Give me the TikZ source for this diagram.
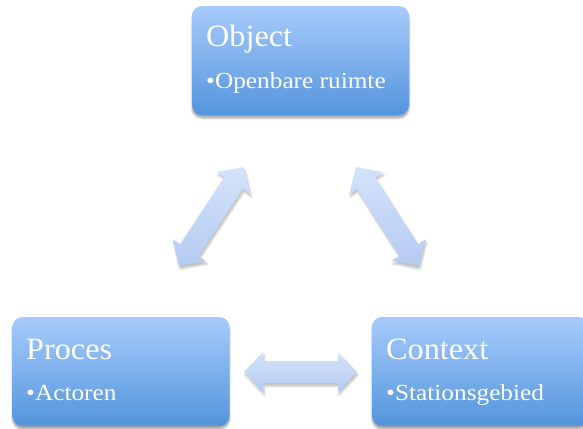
\documentclass[tikz,border=0pt]{standalone}
\usepackage{fontspec}
\setmainfont{Liberation Serif}
\newfontfamily\titlefont{Liberation Serif}[FakeStretch=1.04]
\newfontfamily\itemfont{Liberation Serif}[FakeStretch=1.1]
\usetikzlibrary{calc,shadows.blur}
\definecolor{boxtop}{RGB}{167,203,251}
\definecolor{boxbot}{RGB}{84,149,221}
\definecolor{arrtop}{RGB}{212,227,251}
\definecolor{arrbot}{RGB}{180,202,240}
\tikzset{
  box/.style={minimum width=217pt, minimum height=109pt, inner sep=0pt,
    rounded corners=10pt, top color=boxtop, bottom color=boxbot, draw=none,
    blur shadow={shadow xshift=0pt, shadow yshift=-3pt, shadow blur steps=6, shadow opacity=35}},
  title/.style={anchor=base west, inner sep=0pt, text=white, font=\titlefont\fontsize{31}{32}\selectfont},
  item/.style={anchor=base west, inner sep=0pt, text=white, font=\itemfont\fontsize{23}{24}\selectfont},
  blockarrow/.style={top color=arrtop, bottom color=arrbot, draw=none,
    blur shadow={shadow xshift=1pt, shadow yshift=-3pt, shadow blur steps=6, shadow opacity=25}}
}
\newcommand{\dblarrow}[2]{%
  \path[blockarrow] (#1) -- ($($(#1)!19pt!(#2)$)!20pt!90:(#2)$) -- ($($(#1)!19pt!(#2)$)!11pt!90:(#2)$)
    -- ($($(#2)!19pt!(#1)$)!11pt!-90:(#1)$) -- ($($(#2)!19pt!(#1)$)!20pt!-90:(#1)$) -- (#2)
    -- ($($(#2)!19pt!(#1)$)!20pt!90:(#1)$) -- ($($(#2)!19pt!(#1)$)!11pt!90:(#1)$)
    -- ($($(#1)!19pt!(#2)$)!11pt!-90:(#2)$) -- ($($(#1)!19pt!(#2)$)!20pt!-90:(#2)$) -- cycle;}
\begin{document}
\begin{tikzpicture}[x=1pt,y=-1pt]
\useasboundingbox (0,0) rectangle (583,428);
\node[box] (obj) at (300.5,60.5) {};
\node[box] (proc) at (121,371.5) {};
\node[box] (ctx) at (480.5,371.5) {};
\node[title] (objt) at (206,47) {Object};
\node[item] (obji) at (206,88) {•Openbare ruimte};
\node[title] (proct) at (26,359) {Proces};
\node[item] (proci) at (26,400) {•Actoren};
\node[title] (ctxt) at (386,359) {Context};
\node[item] (ctxi) at (386,400) {•Stationsgebied};
\coordinate (l1) at (179,266);
\coordinate (l2) at (244,167);
\coordinate (r1) at (356,167);
\coordinate (r2) at (419,266);
\coordinate (h1) at (244,372);
\coordinate (h2) at (357,372);
\dblarrow{l1}{l2}
\dblarrow{r1}{r2}
\dblarrow{h1}{h2}
\end{tikzpicture}
\end{document}
